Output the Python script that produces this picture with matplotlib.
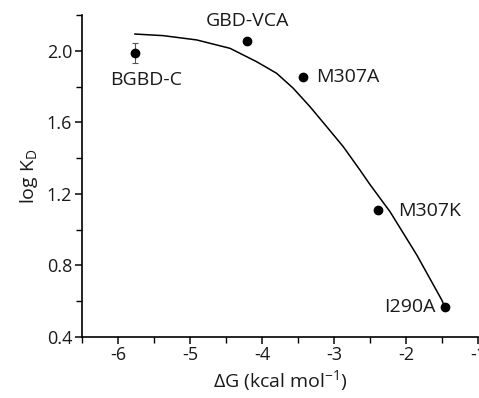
#######################################################
# imports

import matplotlib
matplotlib.use('Agg')
import matplotlib.pyplot as plt
from matplotlib.ticker import MultipleLocator

#######################################################
# data

names = ['BGBD-C', 'GBD-VCA', 'M307A', 'M307K', 'I290A']
dG = [-5.76, -4.21, -3.43, -2.385, -1.46]
logKD = [1.99, 2.056, 1.853, 1.108, 0.564]
logKD_err = [0.055, 0.0, 0.0, 0.0, 0.0]

# fitted curve
fit_x = [-5.764, -5.371, -4.907, -4.444, -4.074, -3.796, -3.565, -3.333,
         -3.101, -2.871, -2.639, -2.500, -2.222, -1.851, -1.504, -1.46]
fit_y = [2.095, 2.086, 2.062, 2.015, 1.940, 1.875, 1.791, 1.688,
         1.576, 1.464, 1.333, 1.252, 1.100, 0.858, 0.606, 0.564]

#######################################################
# style

plt.rcParams['font.family'] = ['Open Sans', 'DejaVu Sans']
plt.rcParams['mathtext.fontset'] = 'custom'
plt.rcParams['mathtext.rm'] = 'Open Sans'
plt.rcParams['mathtext.it'] = 'Open Sans'
plt.rcParams['axes.unicode_minus'] = False

txt_col = '#1a1a1a'

#######################################################
# plot

fig = plt.figure(figsize=(4.79, 3.98), dpi=100)
ax = fig.add_axes([0.171, 0.154, 0.827, 0.8076])

ax.plot(fit_x, fit_y, 'k-', linewidth=1.1, solid_joinstyle='round')
ax.errorbar(dG, logKD, yerr=logKD_err, fmt='o', color='black', markersize=6,
            ecolor='#555555', elinewidth=0.8, capsize=2.2, capthick=0.8)

# label offsets in pixels
offsets = [(11, -27, 'center'), (1, 20, 'center'), (13, 0, 'left'),
           (20, -1, 'left'), (-9, 0, 'right')]
for name, x, y, (dx, dy, ha) in zip(names, dG, logKD, offsets):
    ax.annotate(name, (x, y), xytext=(dx, dy), textcoords='offset pixels',
                ha=ha, va='center', fontsize=14, color=txt_col)

ax.set_xlim(-6.5, -1)
ax.set_ylim(0.4, 2.2)
ax.xaxis.set_major_locator(MultipleLocator(1))
ax.xaxis.set_minor_locator(MultipleLocator(0.5))
ax.yaxis.set_minor_locator(MultipleLocator(0.2))
ax.set_yticks([0.4, 0.8, 1.2, 1.6, 2.0])
ax.set_yticklabels(['0.4', '0.8', '1.2', '1.6', '2.0'])

for s in ['top', 'right']:
    ax.spines[s].set_visible(False)
for s in ['left', 'bottom']:
    ax.spines[s].set_linewidth(1.2)

ax.tick_params(which='major', direction='out', length=5, width=1.2,
               labelsize=13, colors=txt_col, pad=2)
ax.tick_params(which='minor', direction='out', length=4, width=1.0)

ax.set_xlabel('ΔG (kcal mol$^{-1}$)', fontsize=14, color=txt_col, labelpad=3)
ax.set_ylabel('log K$_\\mathregular{D}$', fontsize=14, color=txt_col, labelpad=5)

plt.savefig('out.png', dpi=100)
plt.close()
